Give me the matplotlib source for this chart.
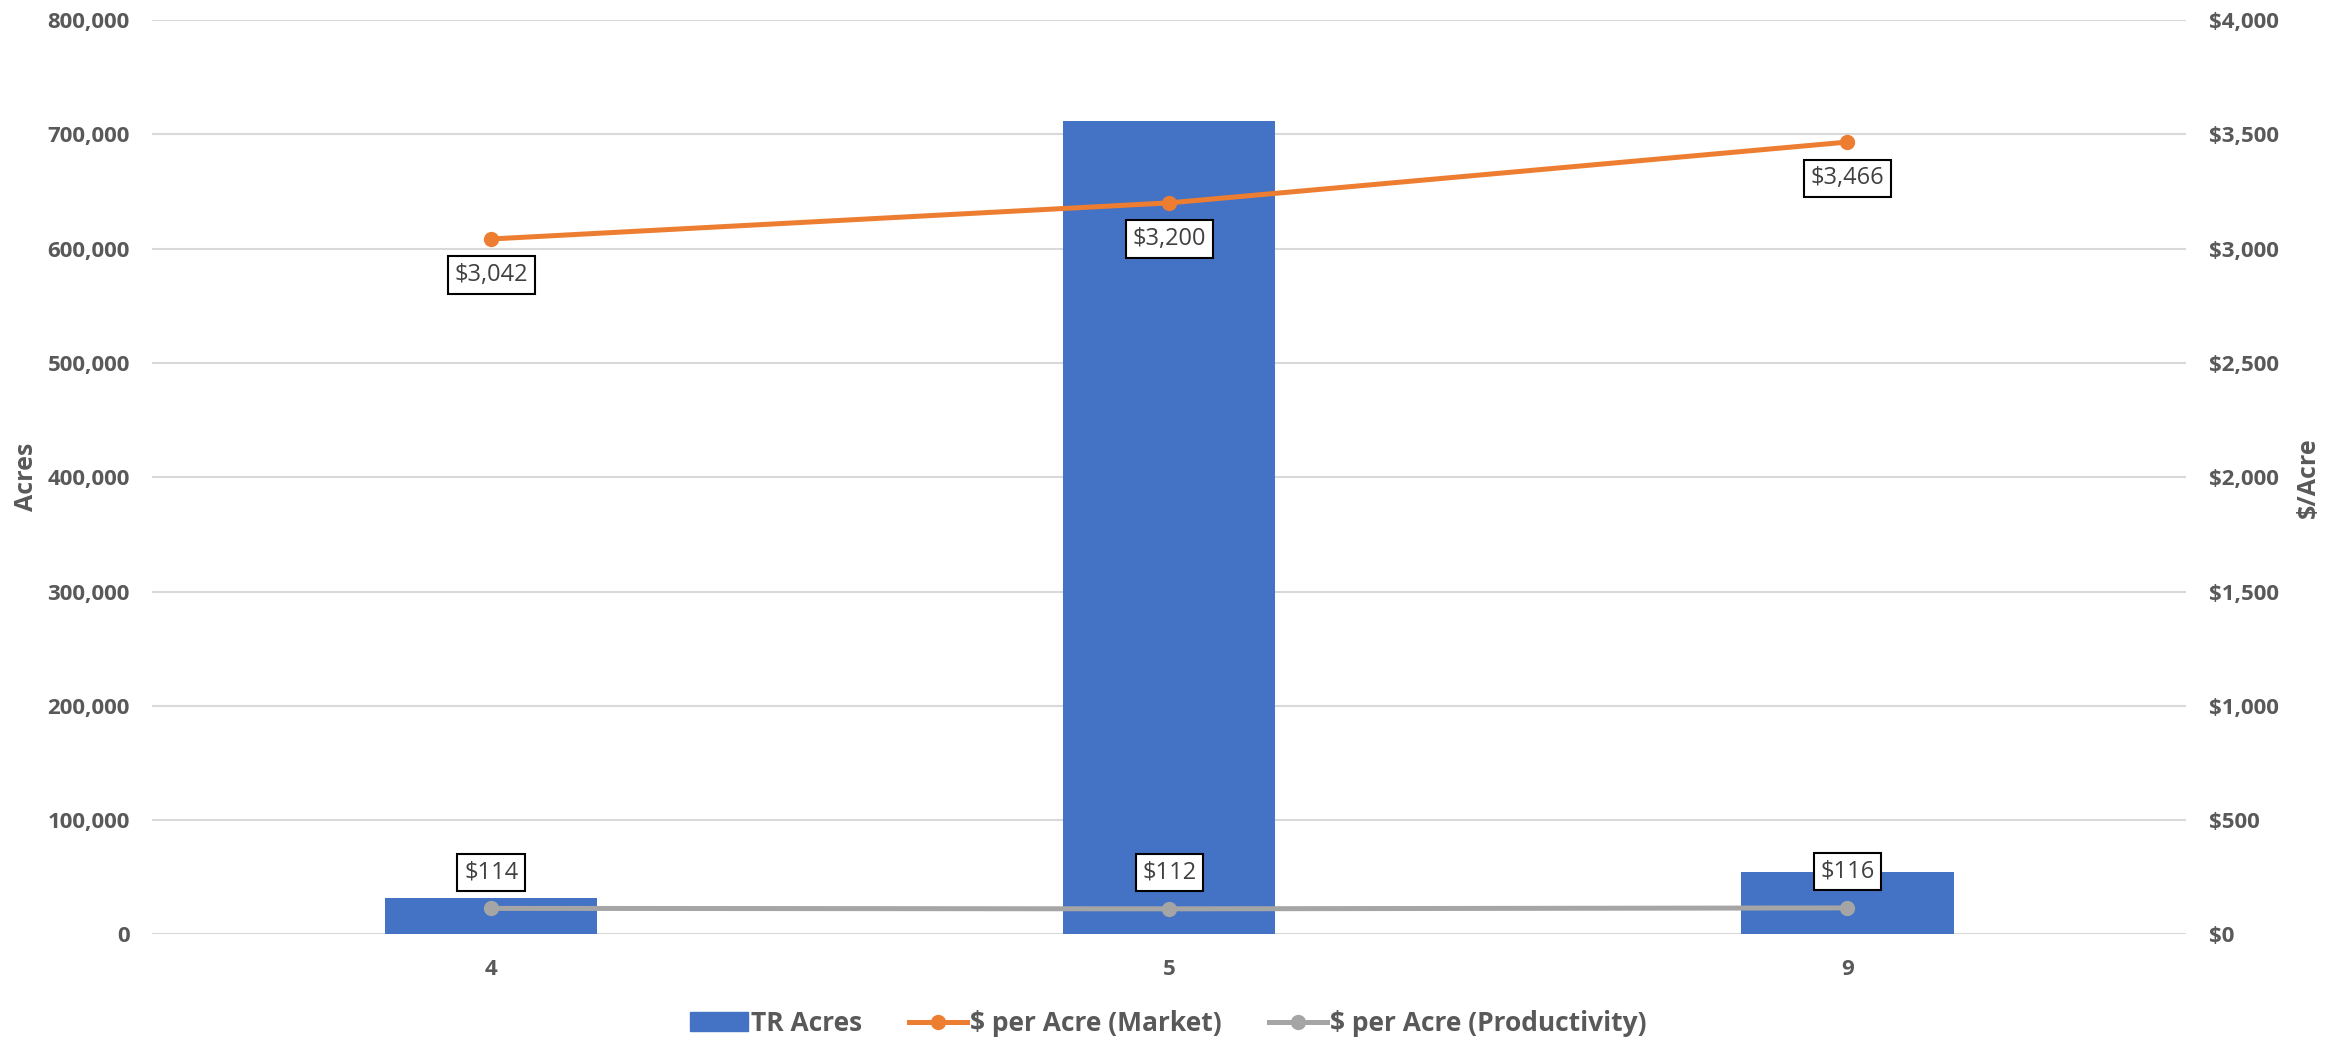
import matplotlib.pyplot as plt
from matplotlib.patches import Patch
from matplotlib.lines import Line2D
from matplotlib.ticker import FuncFormatter, MultipleLocator

plt.rcParams['font.family'] = ['Open Sans', 'DejaVu Sans']

categories = ['4', '5', '9']
tr_acres = [32000, 712000, 54500]
market = [3042, 3200, 3466]
productivity = [114, 112, 116]

blue = '#4472c4'
orange = '#ed7d31'
gray = '#a5a5a5'
text_gray = '#595959'

fig = plt.figure(figsize=(23.41, 10.40), dpi=100)
ax = fig.add_axes([0.065, 0.1015, 0.869, 0.8793])
ax2 = ax.twinx()

x = list(range(len(categories)))
ax.bar(x, tr_acres, width=0.313, color=blue, zorder=2)
ax.set_xlim(-0.5, 2.5)
ax.set_ylim(0, 800000)
ax.yaxis.set_major_locator(MultipleLocator(100000))
ax.yaxis.set_major_formatter(FuncFormatter(lambda v, p: f'{v:,.0f}'))
ax.grid(axis='y', color='#d9d9d9', linewidth=1.5, zorder=0)
ax.set_axisbelow(True)
ax.set_xticks(x)
ax.set_xticklabels(categories)

ax2.plot(x, market, color=orange, lw=3.6, marker='o', ms=10, zorder=3)
ax2.plot(x, productivity, color=gray, lw=3.6, marker='o', ms=10, zorder=3)
ax2.set_ylim(0, 4000)
ax2.yaxis.set_major_locator(MultipleLocator(500))
ax2.yaxis.set_major_formatter(FuncFormatter(lambda v, p: f'${v:,.0f}'))

# value boxes: market below its points, productivity above
box = dict(boxstyle='square,pad=0.28', fc='white', ec='black', lw=1.5)
for xi, v in zip(x, market):
    ax2.annotate(f'${v:,.0f}', (xi, v), xytext=(0, -26), textcoords='offset points',
                 ha='center', va='center', fontsize=17, color='#404040', bbox=box, zorder=5)
for xi, v in zip(x, productivity):
    ax2.annotate(f'${v:,.0f}', (xi, v), xytext=(0, 26), textcoords='offset points',
                 ha='center', va='center', fontsize=17, color='#404040', bbox=box, zorder=5)

for a in (ax, ax2):
    for s in a.spines.values():
        s.set_visible(False)
    a.tick_params(length=0, labelsize=16, labelcolor=text_gray)
    for lab in a.get_yticklabels() + a.get_xticklabels():
        lab.set_fontweight('bold')
ax.tick_params(axis='y', pad=16)
ax2.tick_params(axis='y', pad=16)
ax.tick_params(axis='x', pad=18)

ax.set_ylabel('Acres', fontsize=18, fontweight='bold', color=text_gray, labelpad=6)
ax2.set_ylabel('$/Acre', fontsize=18, fontweight='bold', color=text_gray, labelpad=12)

handles = [
    Patch(color=blue),
    Line2D([], [], color=orange, lw=3.6, marker='o', ms=10),
    Line2D([], [], color=gray, lw=3.6, marker='o', ms=10),
]
labels = ['TR Acres', '$ per Acre (Market)', '$ per Acre (Productivity)']
leg = fig.legend(handles, labels, loc='center', bbox_to_anchor=(0.499, 0.016), ncol=3,
                 frameon=False, fontsize=19, handlelength=2.2, columnspacing=1.8,
                 handletextpad=0.1)
for t in leg.get_texts():
    t.set_color(text_gray)
    t.set_fontweight('bold')

fig.savefig('out.png', dpi=100)
